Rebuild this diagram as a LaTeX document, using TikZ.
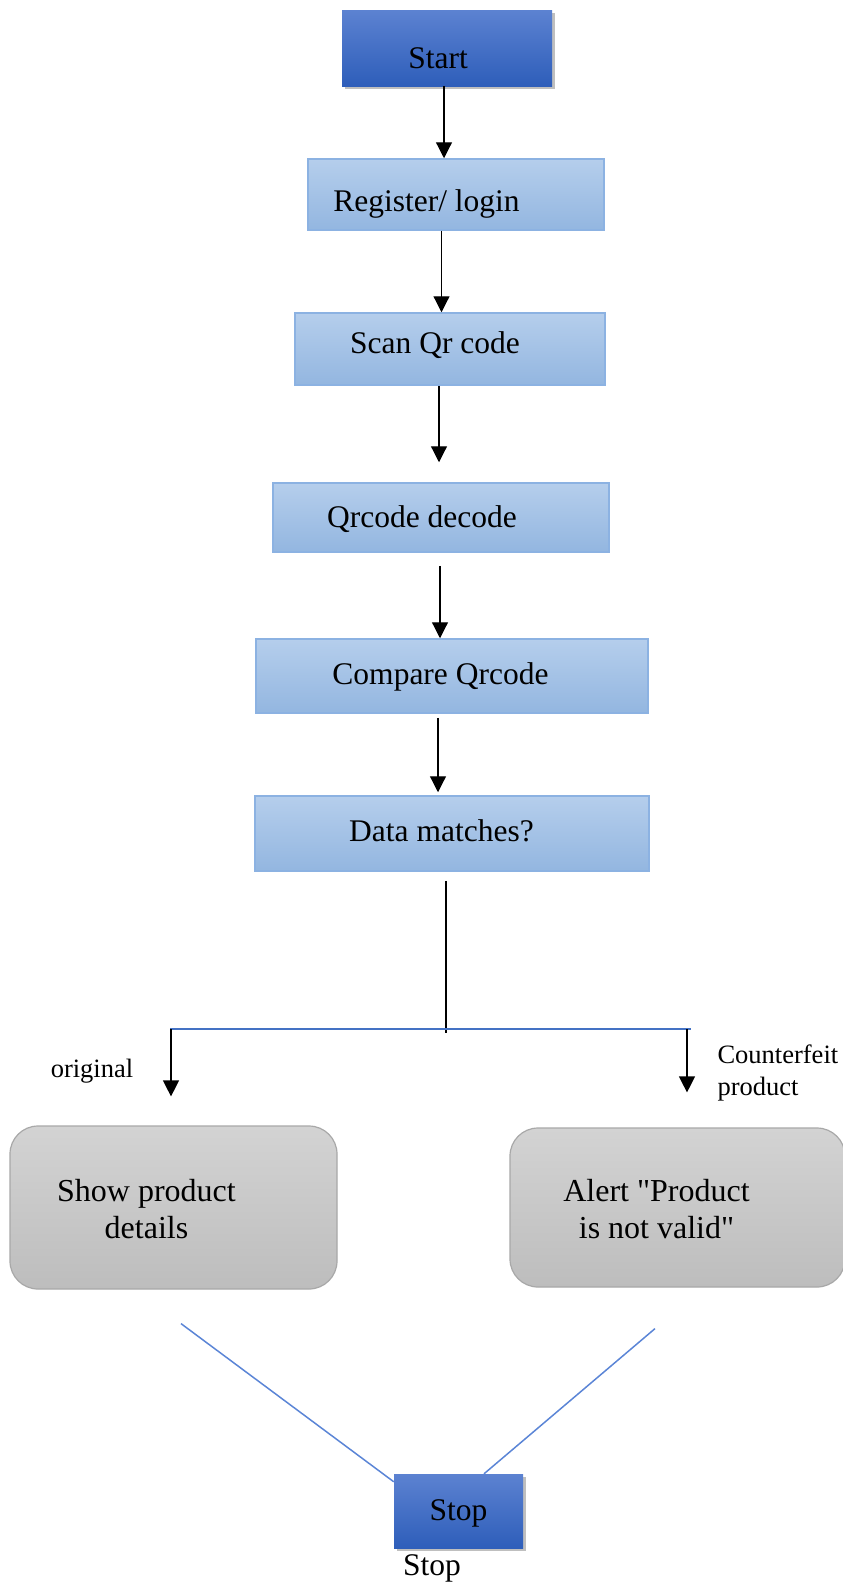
\documentclass[tikz,border=0pt]{standalone}
\usepackage{fontspec}
\setmainfont{Liberation Serif}[Ligatures=TeXOff]
\usepackage{tikz}
\usetikzlibrary{positioning,arrows.meta,shadows}
\usepackage{xcolor}

\definecolor{endtop}{HTML}{5C82D1}
\definecolor{endbot}{HTML}{2E5EBA}
\definecolor{proctop}{HTML}{B5CEEC}
\definecolor{procbot}{HTML}{93B6E0}
\definecolor{procline}{HTML}{8CB2E2}
\definecolor{restop}{HTML}{D3D3D3}
\definecolor{resbot}{HTML}{BDBDBD}
\definecolor{resline}{HTML}{A8A8A8}
\definecolor{splitblue}{HTML}{4472C4}
\definecolor{diagblue}{HTML}{5B85D6}

\newcommand\flowfont{\fontsize{31.5}{36}\selectfont}
\newcommand\resfont{\fontsize{32}{37}\selectfont}
\newcommand\tagfont{\fontsize{26.5}{32}\selectfont}

\tikzset{
  endbox/.style={top color=endtop, bottom color=endbot, inner sep=0pt,
    drop shadow={shadow xshift=2.5pt, shadow yshift=-2.5pt, opacity=.25, fill=black}},
  procbox/.style={draw=procline, line width=1.5pt, top color=proctop, bottom color=procbot, inner sep=0pt},
  resbox/.style={draw=resline, line width=1.2pt, rounded corners=28pt, top color=restop, bottom color=resbot, inner sep=0pt},
  arr/.style={-{Triangle[width=16pt,length=16pt]}, line width=1.2pt},
  every label/.style={font=\flowfont},
}

\begin{document}
\begin{tikzpicture}[x=1pt, y=-1pt]
    \useasboundingbox (0,0) rectangle (843,1582);

    % Start and the steps
    \node[endbox, minimum width=210pt, minimum height=76pt,
      label={[xshift=-9pt, yshift=-10pt]center:Start}] (start) at (447,48) {};
    \node[procbox, minimum width=296pt, minimum height=71pt,
      label={[xshift=-29.5pt, yshift=-9.5pt]center:Register/ login}] (reg) at (456,194.5) {};
    \node[procbox, minimum width=310pt, minimum height=72pt,
      label={[xshift=-15pt, yshift=4pt]center:Scan Qr code}] (scan) at (450,349) {};
    \node[procbox, minimum width=336pt, minimum height=69pt,
      label={[xshift=-19pt, yshift=-2pt]center:Qrcode decode}] (dec) at (441,517.5) {};
    \node[procbox, minimum width=392pt, minimum height=74pt,
      label={[xshift=-11.5pt, yshift=-0.5pt]center:Compare Qrcode}] (cmp) at (452,676) {};
    \node[procbox, minimum width=394pt, minimum height=75pt,
      label={[xshift=-10.5pt, yshift=2.5pt]center:Data matches?}] (data) at (452,833.5) {};

    \draw[arr] ([xshift=-3pt]start.south) -- ([xshift=-12pt]reg.north);
    \draw[arr] ([xshift=-14.5pt]reg.south) -- ([xshift=-8.5pt]scan.north);
    \draw[arr] ([xshift=-11pt]scan.south) -- ([xshift=-2pt, yshift=20pt]dec.north);
    \draw[arr] ([xshift=-1pt, yshift=-13pt]dec.south) -- ([xshift=-12pt]cmp.north);
    \draw[arr] ([xshift=-14pt, yshift=-4pt]cmp.south) -- ([xshift=-14pt, yshift=3pt]data.north);

    % Split
    \coordinate (split) at (446,1029);
    \coordinate (lft) at (170,1029);
    \coordinate (rgt) at (691,1029);
    \draw[line width=1.5pt] ([xshift=-6pt, yshift=-9pt]data.south) -- ([yshift=-4pt]split);
    \draw[splitblue, line width=2pt] (lft) -- (rgt);

    % Results
    \node[resbox, minimum width=327pt, minimum height=163pt,
      label={[font=\resfont, align=center, xshift=-27pt, yshift=-2pt]center:{Show product\\details}}] (show) at (173.5,1207.5) {};
    \node[resbox, minimum width=335pt, minimum height=159pt,
      label={[font=\resfont, align=center, xshift=-21pt, yshift=-2pt]center:{Alert "Product\\is not valid"}}] (alert) at (677.5,1207.5) {};

    \draw[arr] ([xshift=1pt]lft) -- ([xshift=-2.5pt, yshift=29pt]show.north);
    \draw[arr] ([xshift=-4pt]rgt) -- ([xshift=9.5pt, yshift=35pt]alert.north);
    \node[font=\tagfont, anchor=base] (orig) at (92,1077) {original};
    \node[font=\tagfont, anchor=base west, align=left] (fake) at (714,1095) {Counterfeit\\product};

    % Stop
    \node[endbox, minimum width=129pt, minimum height=74pt,
      label={[yshift=-2pt]center:Stop}] (stop) at (458.5,1511) {};
    \draw[diagblue, line width=1.5pt] ([xshift=7.5pt, yshift=-34pt]show.south) -- ([yshift=-8pt]stop.north west);
    \draw[diagblue, line width=1.5pt] ([xshift=-22.5pt, yshift=-41pt]alert.south) -- ([xshift=25.5pt]stop.north);
    \node[font=\flowfont, anchor=base] (stoptag) at (432,1575) {Stop};
\end{tikzpicture}
\end{document}
